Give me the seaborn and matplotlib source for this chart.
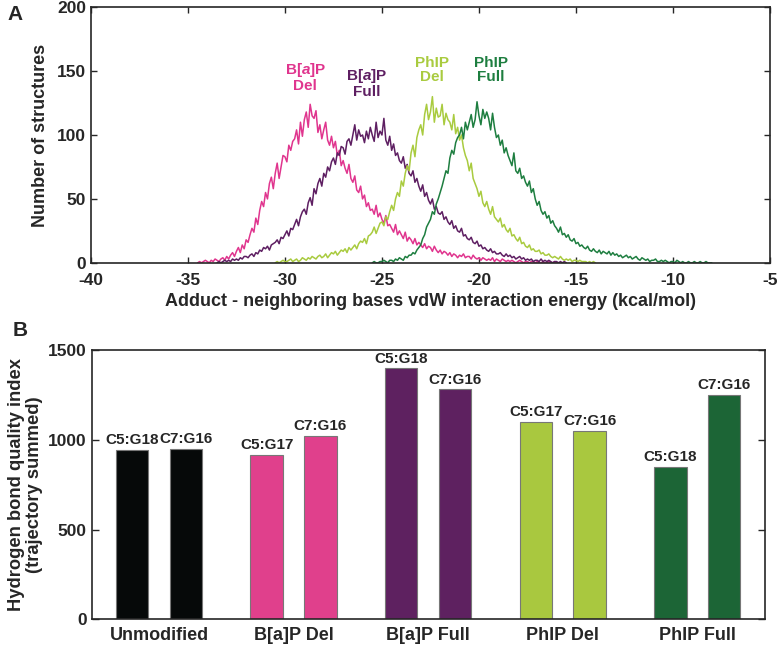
import numpy as np
import pandas as pd
import seaborn as sns
import matplotlib.pyplot as plt

sns.set_style('ticks')
plt.rcParams['font.family'] = ['Liberation Sans', 'DejaVu Sans']
plt.rcParams['font.weight'] = 'bold'
plt.rcParams['axes.labelweight'] = 'bold'
plt.rcParams['axes.unicode_minus'] = False
plt.rcParams['mathtext.fontset'] = 'custom'
plt.rcParams['mathtext.rm'] = 'Liberation Sans:weight=bold'
plt.rcParams['mathtext.it'] = 'Liberation Sans:style=italic:weight=bold'

# Panel A: histograms of vdW interaction energy (0.1 kcal/mol bins)
bap_del_start = -34.5
bap_del_counts = [
    0, 1, 0, 1, 2, 1, 0, 2, 1, 3,
    2, 1, 3, 4, 2, 5, 3, 6, 8, 5,
    9, 12, 8, 14, 11, 18, 16, 22, 27, 24,
    35, 30, 41, 48, 44, 55, 50, 62, 67, 58,
    70, 78, 66, 75, 84, 83, 79, 92, 88, 95,
    97, 104, 93, 110, 99, 112, 118, 106, 124, 115,
    113, 119, 102, 108, 97, 104, 110, 96, 92, 99,
    90, 95, 84, 88, 76, 80, 74, 70, 77, 66,
    63, 68, 57, 55, 60, 50, 53, 44, 47, 41,
    42, 38, 45, 36, 39, 34, 31, 37, 29, 30,
    27, 24, 30, 22, 25, 22, 19, 24, 17, 20,
    18, 15, 19, 14, 16, 14, 12, 15, 11, 13,
    12, 9, 13, 10, 8, 10, 7, 9, 8, 6,
    8, 5, 7, 6, 4, 6, 5, 7, 4, 5,
    5, 3, 6, 4, 3, 4, 2, 4, 3, 2,
    3, 2, 4, 1, 3, 2, 1, 3, 2, 1,
    2, 1, 2, 1, 0, 1, 2, 1, 0, 1,
    1, 0, 1, 1, 0, 1, 0, 0, 1, 0,
    0, 1, 0, 0, 1, 0,
]

bap_full_start = -33.5
bap_full_counts = [
    0, 1, 0, 1, 2, 1, 2, 1, 3, 2,
    3, 2, 4, 3, 5, 5, 4, 6, 7, 5,
    8, 7, 10, 9, 12, 11, 13, 10, 14, 15,
    16, 18, 15, 20, 19, 22, 25, 21, 27, 26,
    30, 34, 29, 36, 40, 42, 38, 47, 51, 45,
    58, 54, 62, 66, 60, 70, 67, 75, 72, 79,
    82, 77, 86, 84, 91, 90, 85, 95, 97, 92,
    100, 108, 96, 104, 99, 100, 94, 103, 97, 106,
    100, 95, 110, 98, 103, 100, 113, 96, 92, 99,
    88, 93, 84, 86, 80, 78, 83, 74, 77, 70,
    68, 72, 63, 66, 60, 56, 61, 52, 55, 49,
    46, 50, 42, 44, 39, 38, 40, 34, 36, 32,
    30, 33, 27, 29, 25, 24, 27, 21, 22, 19,
    18, 20, 16, 15, 17, 13, 14, 11, 12, 10,
    9, 11, 8, 9, 7, 7, 8, 6, 5, 7,
    5, 6, 4, 5, 3, 4, 5, 3, 4, 2,
    3, 2, 3, 1, 2, 2, 1, 3, 1, 2,
    1, 2, 1, 0, 1, 1, 0, 1, 0, 1,
    0,
]

phip_del_start = -30.5
phip_del_counts = [
    0, 1, 0, 1, 2, 1, 1, 2, 3, 1,
    2, 3, 1, 2, 4, 3, 2, 4, 3, 5,
    4, 3, 5, 6, 4, 5, 7, 4, 6, 8,
    7, 9, 6, 8, 10, 9, 11, 8, 12, 10,
    12, 14, 11, 15, 17, 16, 19, 15, 21, 22,
    24, 28, 23, 27, 31, 32, 29, 36, 34, 40,
    45, 41, 50, 55, 52, 64, 60, 70, 76, 72,
    86, 92, 83, 98, 104, 108, 100, 116, 124, 112,
    118, 130, 110, 121, 114, 115, 124, 108, 117, 112,
    110, 104, 116, 101, 106, 96, 100, 90, 84, 80,
    72, 78, 66, 62, 58, 52, 56, 47, 44, 48,
    42, 38, 44, 36, 34, 32, 35, 28, 30, 26,
    24, 27, 21, 22, 19, 17, 20, 15, 16, 13,
    12, 14, 10, 11, 9, 9, 10, 7, 8, 6,
    6, 7, 5, 4, 5, 4, 3, 5, 3, 2,
    3, 2, 3, 1, 2, 2, 1, 2, 1, 1,
    1, 0, 1, 0, 1, 0,
]

phip_full_start = -25.5
phip_full_counts = [
    0, 1, 0, 0, 1, 1, 2, 1, 0, 2,
    2, 1, 3, 2, 4, 3, 2, 5, 4, 6,
    6, 8, 7, 10, 12, 14, 19, 22, 28, 31,
    34, 40, 38, 46, 50, 55, 60, 66, 72, 70,
    82, 88, 85, 94, 98, 100, 106, 97, 110, 104,
    110, 116, 106, 112, 126, 115, 108, 120, 113, 118,
    113, 104, 117, 106, 98, 100, 92, 96, 86, 90,
    84, 80, 76, 86, 72, 70, 74, 66, 68, 63,
    60, 64, 55, 58, 50, 45, 48, 41, 38, 40,
    35, 37, 31, 33, 29, 27, 24, 28, 22, 23,
    20, 22, 18, 17, 19, 15, 16, 13, 14, 12,
    11, 13, 10, 9, 11, 9, 8, 10, 7, 9,
    8, 7, 9, 6, 8, 6, 7, 5, 6, 4,
    5, 6, 4, 5, 3, 4, 5, 3, 2, 4,
    3, 2, 3, 1, 2, 2, 3, 1, 1, 2,
    1, 2, 1, 0, 1, 1, 0, 2, 1, 0,
    1, 0, 0, 1, 0, 0, 1, 0, 0, 1,
    0, 0, 1, 0, 0, 0,
]

hist_names = ['B[a]P Del', 'B[a]P Full', 'PhIP Del', 'PhIP Full']
hist_labels = ['B[$\\mathit{a}$]P\nDel', 'B[$\\mathit{a}$]P\nFull', 'PhIP\nDel', 'PhIP\nFull']
hist_colors = ['#E0358E', '#5E1F62', '#A9CB3F', '#1E7E40']
label_pos = [(-28.95, 145), (-25.8, 141), (-22.4, 151), (-19.4, 151)]

# Panel B: hydrogen bond quality index
groups = ['Unmodified', 'B[a]P Del', 'B[a]P Full', 'PhIP Del', 'PhIP Full']
pair1_names = ['C5:G18', 'C5:G17', 'C5:G18', 'C5:G17', 'C5:G18']
pair2_names = ['C7:G16', 'C7:G16', 'C7:G16', 'C7:G16', 'C7:G16']
pair1_values = [944, 917, 1400, 1100, 850]
pair2_values = [950, 1022, 1283, 1050, 1250]
bar_colors = ['#060909', '#E0408C', '#5E2160', '#A9C83F', '#1C6536']

# build long tables
rows = []
for name, start, counts in zip(hist_names,
                               [bap_del_start, bap_full_start, phip_del_start, phip_full_start],
                               [bap_del_counts, bap_full_counts, phip_del_counts, phip_full_counts]):
    energy = np.round(start + 0.1 * np.arange(len(counts)), 1)
    rows.append(pd.DataFrame({'energy': energy, 'count': counts, 'adduct': name}))
df_hist = pd.concat(rows, ignore_index=True)

df_bar = pd.DataFrame({
    'group': groups * 2,
    'slot': ['first'] * 5 + ['second'] * 5,
    'value': pair1_values + pair2_values,
})

fig = plt.figure(figsize=(7.77, 6.49), dpi=100)
ax1 = fig.add_axes([0.117, 0.595, 0.874, 0.394])
ax2 = fig.add_axes([0.118, 0.046, 0.866, 0.414])

# Panel A
sns.lineplot(data=df_hist, x='energy', y='count', hue='adduct', hue_order=hist_names,
             palette=hist_colors, estimator=None, linewidth=1.1, legend=False, ax=ax1)
ax1.set_xlim(-40, -5)
ax1.set_ylim(0, 200)
ax1.set_xticks(np.arange(-40, -4, 5))
ax1.set_yticks([0, 50, 100, 150, 200])
ax1.tick_params(direction='in', top=True, right=True, labelsize=12.5, length=4, width=1)
ax1.tick_params(axis='x', pad=7)
ax1.set_xlabel('Adduct - neighboring bases vdW interaction energy (kcal/mol)', fontsize=13, labelpad=4)
ax1.set_ylabel('Number of structures', fontsize=13, labelpad=6)
for lab, (x, y), col in zip(hist_labels, label_pos, hist_colors):
    ax1.text(x, y, lab, color=col, fontsize=11, fontweight='bold', ha='center', va='center',
             linespacing=1.0)
for sp in ax1.spines.values():
    sp.set_linewidth(1.2)

# Panel B
sns.barplot(data=df_bar, x='group', y='value', hue='slot', order=groups,
            width=0.8, gap=0.4, legend=False, edgecolor='#777777', linewidth=0.8, ax=ax2)
for cont, names in zip(ax2.containers, [pair1_names, pair2_names]):
    for bar, col in zip(cont, bar_colors):
        bar.set_facecolor(col)
    ax2.bar_label(cont, labels=names, padding=2, fontsize=11, fontweight='bold')
ax2.set_xlim(-0.5, 4.5)
ax2.set_ylim(0, 1500)
ax2.set_yticks([0, 500, 1000, 1500])
ax2.tick_params(axis='y', direction='in', right=True, labelsize=12.5, length=5, width=1)
ax2.tick_params(axis='x', length=0, labelsize=13, pad=6)
ax2.set_xlabel('')
ax2.set_ylabel('Hydrogen bond quality index\n(trajectory summed)', fontsize=13.2, labelpad=4,
               linespacing=1.05)
for sp in ax2.spines.values():
    sp.set_linewidth(1.2)
    sp.set_visible(True)

fig.text(0.010, 0.977, 'A', fontsize=15, fontweight='bold', va='center')
fig.text(0.016, 0.491, 'B', fontsize=15, fontweight='bold', va='center')

fig.savefig('out.png', dpi=100)
